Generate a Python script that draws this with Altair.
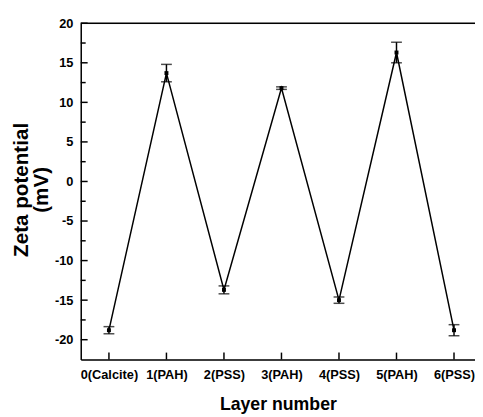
import altair as alt
import pandas as pd

layers = ["0(Calcite)", "1(PAH)", "2(PSS)", "3(PAH)", "4(PSS)", "5(PAH)", "6(PSS)"]
layer_idx = [0, 1, 2, 3, 4, 5, 6]
zeta = [-18.8, 13.7, -13.7, 11.8, -15.0, 16.3, -18.8]
err = [0.45, 1.1, 0.5, 0.16, 0.4, 1.3, 0.7]
y_major = [-20, -15, -10, -5, 0, 5, 10, 15, 20]
y_minor = [-17.5, -12.5, -7.5, -2.5, 2.5, 7.5, 12.5, 17.5]

W, H = 401, 342
FONT = "Liberation Sans"

df = pd.DataFrame({"x": layer_idx, "name": layers, "z": zeta, "e": err})
df["lo"] = df["z"] - df["e"]
df["hi"] = df["z"] + df["e"]

label_arr = "[" + ",".join("'" + s + "'" for s in layers) + "]"

xs = alt.Scale(domain=[-0.49, 6.365], nice=False, zero=False)
ys = alt.Scale(domain=[-22.5, 20], nice=False, zero=False)

xaxis = alt.Axis(values=layer_idx, labelExpr=label_arr + "[datum.value]", ticks=False,
                 grid=False, labelPadding=9, labelFontSize=13, labelFontWeight="bold",
                 labelFont=FONT, labelColor="black", title="Layer number", titleFont=FONT,
                 titleFontSize=18, titleFontWeight="bold", titleColor="black", titlePadding=15,
                 domainColor="black", domainWidth=1.5)
yaxis = alt.Axis(values=y_major, labelExpr="datum.value + ''", ticks=False, grid=False,
                 labelPadding=8, labelFontSize=13,
                 labelFontWeight="bold", labelFont=FONT, labelColor="black",
                 title=["Zeta potential", "(mV)"], titleFont=FONT, titleFontSize=21,
                 titleFontWeight="bold", titleColor="black", titleLineHeight=20,
                 titleX=-60, titleY=H / 2 - 2, titleAngle=270, titleAlign="center",
                 titleBaseline="middle",
                 domainColor="black", domainWidth=1.5)

base = alt.Chart(df)

line = base.mark_line(color="black", strokeWidth=1.5).encode(
    x=alt.X("x:Q", scale=xs, axis=xaxis),
    y=alt.Y("z:Q", scale=ys, axis=yaxis),
)
pts = base.mark_square(color="black", size=16, opacity=1).encode(
    x=alt.X("x:Q", scale=xs), y=alt.Y("z:Q", scale=ys))
bars = base.mark_rule(color="black", strokeWidth=1.5).encode(
    x=alt.X("x:Q", scale=xs), y=alt.Y("lo:Q", scale=ys), y2="hi:Q")
cap_lo = base.mark_tick(color="black", orient="horizontal", size=11, thickness=1.5).encode(
    x=alt.X("x:Q", scale=xs), y=alt.Y("lo:Q", scale=ys))
cap_hi = base.mark_tick(color="black", orient="horizontal", size=11, thickness=1.5).encode(
    x=alt.X("x:Q", scale=xs), y=alt.Y("hi:Q", scale=ys))

ymaj = alt.Chart(pd.DataFrame({"v": y_major})).mark_rule(color="black", strokeWidth=1.5).encode(
    y=alt.Y("v:Q", scale=ys), x=alt.value(0), x2=alt.value(7))
ymin = alt.Chart(pd.DataFrame({"v": y_minor})).mark_rule(color="black", strokeWidth=1.5).encode(
    y=alt.Y("v:Q", scale=ys), x=alt.value(0), x2=alt.value(5))
xt = alt.Chart(pd.DataFrame({"v": layer_idx})).mark_rule(color="black", strokeWidth=1.5).encode(
    x=alt.X("v:Q", scale=xs), y=alt.value(H), y2=alt.value(H - 7))
top = alt.Chart(pd.DataFrame({"v": [0]})).mark_rule(color="black", strokeWidth=1.5).encode(
    x=alt.value(0), x2=alt.value(W), y=alt.value(0))

chart = alt.layer(line, bars, cap_lo, cap_hi, pts, ymaj, ymin, xt, top).properties(
    width=W, height=H,
    autosize=alt.AutoSizeParams(type="none"),
    padding={"left": 74, "top": 12, "right": 0, "bottom": 55},
).configure_view(stroke=None).configure(background="white")

chart.save("out.html", embed_options={"renderer": "svg", "actions": False})
